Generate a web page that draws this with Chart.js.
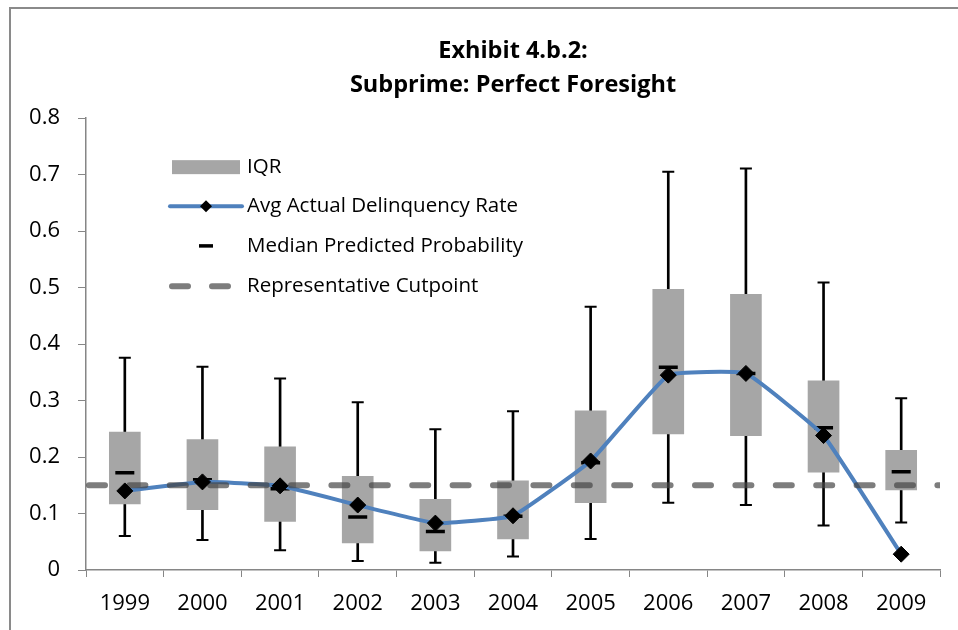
<!DOCTYPE html>
<html>
<head>
<meta charset="utf-8">
<script src="https://cdn.jsdelivr.net/npm/chart.js@4.4.1/dist/chart.umd.min.js"></script>
<style>
  html, body { margin: 0; padding: 0; background: #fff; }
  .frame { position: absolute; left: 9px; top: 7px; width: 980px; height: 660px; border: 2px solid #8a8a8a; }
  .wrap { position: absolute; left: 0; top: 0; width: 958px; height: 630px; }
</style>
</head>
<body>
<div class="frame"></div>
<div class="wrap"><canvas id="chart" width="958" height="630"></canvas></div>
<script>
// Years on the x axis
const years = ['1999', '2000', '2001', '2002', '2003', '2004', '2005', '2006', '2007', '2008', '2009'];

// Box plot pieces
const whiskerLow  = [0.060, 0.053, 0.035, 0.016, 0.013, 0.024, 0.055, 0.119, 0.115, 0.079, 0.084];
const q1          = [0.117, 0.107, 0.086, 0.048, 0.034, 0.055, 0.119, 0.241, 0.238, 0.173, 0.142];
const q3          = [0.244, 0.231, 0.218, 0.166, 0.125, 0.158, 0.282, 0.497, 0.488, 0.335, 0.212];
const whiskerHigh = [0.376, 0.360, 0.339, 0.297, 0.249, 0.281, 0.466, 0.705, 0.711, 0.509, 0.304];
const medianPred  = [0.172, 0.160, 0.144, 0.094, 0.068, 0.095, 0.190, 0.359, 0.348, 0.252, 0.174];
const avgActual   = [0.140, 0.156, 0.149, 0.115, 0.083, 0.096, 0.193, 0.345, 0.348, 0.238, 0.028];
const cutpoint = 0.15;

const yTicks = [0, 0.1, 0.2, 0.3, 0.4, 0.5, 0.6, 0.7, 0.8];

const FONT = '"Open Sans", Lato, sans-serif';
const BLUE = '#4F81BD';
const BOXGRAY = '#A6A6A6';
const DASH = 'rgba(70,70,70,0.7)';
const AXIS = '#868686';

// legend drawn inside the plot, top-left
const legendPlugin = {
  id: 'insideLegend',
  afterDraw(chart) {
    const ctx = chart.ctx;
    const a = chart.chartArea;
    const x0 = a.left + 83, tx = a.left + 161;
    const rows = [a.top + 49, a.top + 88, a.top + 128, a.top + 168];
    ctx.save();
    // IQR
    ctx.fillStyle = BOXGRAY;
    ctx.fillRect(x0 + 3, rows[0] - 7, 68, 14);
    // avg line with diamond
    ctx.strokeStyle = BLUE; ctx.lineWidth = 4; ctx.lineCap = 'round';
    ctx.beginPath(); ctx.moveTo(x0 + 1, rows[1]); ctx.lineTo(x0 + 73, rows[1]); ctx.stroke();
    ctx.fillStyle = '#000';
    ctx.beginPath();
    ctx.moveTo(x0 + 37, rows[1] - 6); ctx.lineTo(x0 + 43, rows[1]);
    ctx.lineTo(x0 + 37, rows[1] + 6); ctx.lineTo(x0 + 31, rows[1]); ctx.closePath(); ctx.fill();
    // median tick
    ctx.fillRect(x0 + 30, rows[2] - 2, 14, 3.5);
    // cutpoint dashes
    ctx.strokeStyle = DASH; ctx.lineWidth = 6; ctx.lineCap = 'round';
    ctx.beginPath();
    ctx.moveTo(x0 + 3, rows[3]); ctx.lineTo(x0 + 19, rows[3]);
    ctx.moveTo(x0 + 43, rows[3]); ctx.lineTo(x0 + 59, rows[3]);
    ctx.stroke();
    // labels
    ctx.fillStyle = '#000';
    ctx.font = '20.5px ' + FONT;
    ctx.textBaseline = 'middle';
    ctx.textAlign = 'left';
    ctx.fillText('IQR', tx, rows[0]);
    ctx.fillText('Avg Actual Delinquency Rate', tx, rows[1]);
    ctx.fillText('Median Predicted Probability', tx, rows[2]);
    ctx.fillText('Representative Cutpoint', tx, rows[3]);
    ctx.restore();
  }
};

const ctx = document.getElementById('chart').getContext('2d');
const chart = new Chart(ctx, {
  type: 'bar',
  data: {
    labels: years,
    datasets: [
      {
        label: 'Whisker',
        data: years.map((y, i) => [whiskerLow[i], whiskerHigh[i]]),
        backgroundColor: '#000',
        barThickness: 2,
        grouped: false,
        order: 9
      },
      {
        label: 'IQR',
        data: years.map((y, i) => [q1[i], q3[i]]),
        backgroundColor: BOXGRAY,
        barThickness: 31,
        grouped: false,
        order: 8
      },
      {
        type: 'line',
        label: 'Whisker high',
        data: whiskerHigh,
        showLine: false,
        pointStyle: 'line',
        pointRadius: 6,
        pointBorderWidth: 2,
        pointBorderColor: '#000',
        order: 7
      },
      {
        type: 'line',
        label: 'Whisker low',
        data: whiskerLow,
        showLine: false,
        pointStyle: 'line',
        pointRadius: 6,
        pointBorderWidth: 2,
        pointBorderColor: '#000',
        order: 7
      },
      {
        type: 'line',
        label: 'Median Predicted Probability',
        data: medianPred,
        showLine: false,
        pointStyle: 'line',
        pointRadius: 9.5,
        pointBorderWidth: 3.5,
        pointBorderColor: '#000',
        order: 6
      },
      {
        type: 'line',
        label: 'Avg Actual Delinquency Rate',
        data: avgActual,
        borderColor: BLUE,
        borderWidth: 4,
        tension: 0.1,
        pointRadius: 0,
        order: 5
      },
      {
        type: 'line',
        label: 'Representative Cutpoint',
        data: [{ x: 0, y: cutpoint }, { x: 1, y: cutpoint }],
        xAxisID: 'xLine',
        borderColor: DASH,
        borderWidth: 6,
        borderDash: [16, 24.4],
        borderDashOffset: -3,
        borderCapStyle: 'round',
        pointRadius: 0,
        order: 4
      },
      {
        type: 'line',
        label: 'Avg markers',
        data: avgActual,
        showLine: false,
        pointStyle: 'rectRot',
        pointRadius: 8,
        pointBorderWidth: 1,
        pointBackgroundColor: '#000',
        pointBorderColor: '#000',
        order: 1
      }
    ]
  },
  options: {
    responsive: false,
    animation: false,
    layout: { padding: { left: 10, right: 18, top: 0, bottom: 0 } },
    plugins: {
      legend: { display: false },
      tooltip: { enabled: false },
      title: {
        display: true,
        fullSize: false,
        text: ['Exhibit 4.b.2:', 'Subprime: Perfect Foresight'],
        color: '#000',
        font: { family: FONT, size: 23.5, weight: 'bold', lineHeight: 1.45 },
        padding: { top: 34, bottom: 16 }
      }
    },
    scales: {
      x: {
        offset: true,
        grid: { offset: true, drawOnChartArea: false, drawTicks: true, tickLength: 7, color: AXIS },
        border: { color: AXIS, width: 1.5 },
        ticks: { color: '#000', font: { family: FONT, size: 22 }, padding: 14 },
        afterFit(scale) { scale.height = 60; }
      },
      xLine: {
        type: 'linear',
        display: false,
        min: 0,
        max: 1,
        offset: false
      },
      y: {
        min: 0,
        max: 0.8,
        afterBuildTicks(scale) { scale.ticks = yTicks.map(v => ({ value: v })); },
        grid: { drawOnChartArea: false, drawTicks: true, tickLength: 8, color: AXIS },
        border: { color: AXIS, width: 1.5 },
        ticks: {
          color: '#000',
          font: { family: FONT, size: 22 },
          padding: 18,
          callback: v => String(Math.round(v * 10) / 10)
        },
        afterFit(scale) { scale.width = 76; }
      }
    }
  },
  plugins: [legendPlugin]
});
</script>
</body>
</html>
